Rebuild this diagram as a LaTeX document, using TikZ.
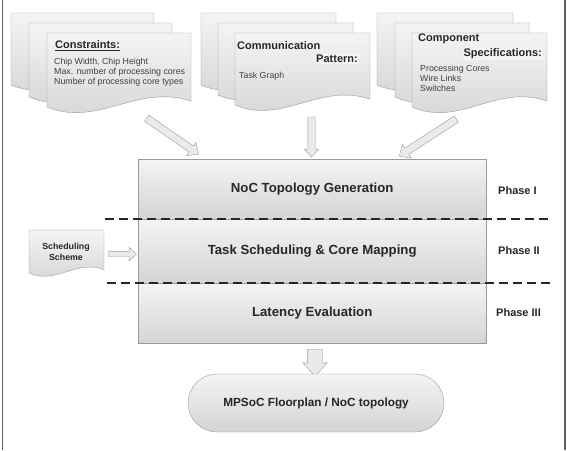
\documentclass[tikz,border=0pt]{standalone}
\usepackage{fontspec}
\setmainfont{Liberation Sans}
\usetikzlibrary{shapes.arrows,calc}
\definecolor{edge}{HTML}{9A9A9A}
\definecolor{ftop}{HTML}{F4F4F4}
\definecolor{fbot}{HTML}{D4D4D4}
\definecolor{framec}{HTML}{606060}
\newcommand\docsheet[4]{%
  \draw[edge, top color=ftop, bottom color=fbot] (#1,#2) -- ({#1+#3},#2) -- ({#1+#3},{#2+0.92*#4})
   .. controls ({#1+0.63*#3},{#2+0.68*#4}) and ({#1+0.35*#3},{#2+1.28*#4}) .. (#1,{#2+#4}) -- cycle;}
\tikzset{
  titletxt/.style={font=\fontsize{11}{13}\selectfont\bfseries, inner sep=1pt, text=black!85},
  bodytxt/.style={font=\fontsize{8.8}{10.2}\selectfont, inner sep=1pt, align=left, text=black!75},
  secbox/.style={draw=edge, top color=ftop, bottom color=fbot, minimum width=348pt, anchor=north west,
     font=\fontsize{13.2}{15}\selectfont\bfseries, text=black!85},
  phasetxt/.style={font=\fontsize{11}{13}\selectfont\bfseries, anchor=west, inner sep=0pt, text=black!85},
  fatarrow/.style={single arrow, draw=edge, fill=ftop!70!fbot, inner xsep=0pt, single arrow tip angle=85,
     single arrow head indent=0pt},
  dashline/.style={line width=1.6pt, dash pattern=on 9pt off 5pt, black!85},
}
\begin{document}
\begin{tikzpicture}[x=1pt,y=-1pt]
\useasboundingbox (0,0) rectangle (567,450);
% frame
\draw[framec, line width=1.5pt] (2.5,0) -- (2.5,450);
\draw[framec, line width=1.5pt] (565,0) -- (565,450);
% left stack
\docsheet{11}{13}{143}{72}
\docsheet{29}{23}{143}{74}
\docsheet{47}{33}{144}{74}
\node[titletxt, anchor=west] (cons) at (54,46) {\underline{Constraints:}};
\node[bodytxt, anchor=north west] (consb) at (53,57) {Chip Width, Chip Height\\Max. number of processing cores\\Number of processing core types};
% middle stack
\docsheet{201}{13}{135}{72}
\docsheet{218}{23}{135}{72}
\docsheet{235}{33}{135}{72}
\node[titletxt, anchor=west] (comm) at (236,46) {Communication};
\node[titletxt, anchor=east, fill=ftop] (patt) at (359,59) {Pattern:};
\node[bodytxt, anchor=west] (task) at (238,76) {Task Graph};
% right stack
\docsheet{377}{13}{136}{72}
\docsheet{395}{23}{134}{74}
\docsheet{412}{33}{135}{74}
\node[titletxt, anchor=west] (comp) at (417,39) {Component};
\node[titletxt, anchor=east, fill=ftop] (spec) at (543,54) {Specifications:};
\node[bodytxt, anchor=north west] (compb) at (419,64) {Processing Cores\\ Wire Links\\ Switches};
% input arrows
\node[fatarrow, minimum height=63pt, inner ysep=3.5pt, single arrow head extend=4.5pt, rotate=-34.7] (a1) at (171,135) {};
\node[fatarrow, minimum height=40pt, inner ysep=3.5pt, single arrow head extend=3.5pt, rotate=-90] (a2) at (311.5,135) {};
\node[fatarrow, minimum height=68pt, inner ysep=3.5pt, single arrow head extend=4.5pt, rotate=213] (a3) at (429.5,136.5) {};
% main box
\node[secbox, minimum height=60pt] (s1) at (138,159) {NoC Topology Generation};
\node[secbox, minimum height=64pt] (s2) at (138,219) {Task Scheduling \& Core Mapping};
\node[secbox, minimum height=60pt] (s3) at (138,283) {Latency Evaluation};
\draw[dashline] (105,219) -- (548,219);
\draw[dashline] (107,283) -- (550,283);
\node[phasetxt] (p1) at (498,191) {Phase I};
\node[phasetxt] (p2) at (498,251) {Phase II};
\node[phasetxt] (p3) at (496,313) {Phase III};
% scheduling scheme
\docsheet{29}{230}{75}{43}
\node[font=\fontsize{8.8}{10.5}\selectfont\bfseries, align=center, text=black!85] (sched) at (66,252) {Scheduling\\Scheme};
\node[fatarrow, minimum height=28pt, inner ysep=2.5pt, single arrow head extend=4pt, rotate=0] (a4) at (121,254) {};
% output
\node[fatarrow, minimum height=27pt, inner ysep=7.5pt, single arrow head extend=4.5pt, rotate=-90] (a5) at (315,358.5) {};
\node[draw=edge, top color=ftop, bottom color=fbot, minimum width=256pt, minimum height=58pt, rounded corners=29pt,
   font=\fontsize{11.8}{14}\selectfont\bfseries, text=black!85] (out) at (316,403) {MPSoC Floorplan / NoC topology};
\end{tikzpicture}
\end{document}
